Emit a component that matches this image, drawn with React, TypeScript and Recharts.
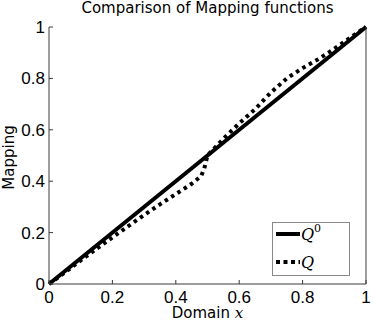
import React from 'react';
import { LineChart, Line, XAxis, YAxis } from 'recharts';

const xTicks = [0, 0.2, 0.4, 0.6, 0.8, 1];
const yTicks = [0, 0.2, 0.4, 0.6, 0.8, 1];
const tickLabels = ['0', '0.2', '0.4', '0.6', '0.8', '1'];

const q0X = [0, 1];
const q0Y = [0, 1];

const qX = [0, 0.05, 0.1, 0.15, 0.2, 0.25, 0.3, 0.35, 0.4, 0.45, 0.48, 0.49, 0.5, 0.55, 0.6, 0.65, 0.7, 0.75, 0.8, 0.85, 0.9, 0.95, 1];
const qY = [0, 0.045, 0.092, 0.137, 0.181, 0.225, 0.268, 0.31, 0.35, 0.39, 0.42, 0.45, 0.5, 0.565, 0.625, 0.68, 0.745, 0.8, 0.84, 0.875, 0.915, 0.958, 1];

const q0Data = q0X.map((x, i) => ({ x, y: q0Y[i] }));
const qData = qX.map((x, i) => ({ x, y: qY[i] }));

const fmt = (v: number) => {
  const i = xTicks.findIndex((t) => Math.abs(t - v) < 1e-9);
  return i >= 0 ? tickLabels[i] : String(v);
};

const AXIS = '#3a3a3a';
const TICKFAMILY = '"Liberation Sans", Arial, sans-serif';
const TICKFONT = { fontFamily: TICKFAMILY, fontSize: 17, fill: '#000' };
const LABELFONT = '"DejaVu Sans", sans-serif';

const XLabel = (props: any) => {
  const vb = props.viewBox || {};
  const cx = vb.x + vb.width / 2;
  return (
    <text x={cx} y={318} textAnchor="middle" fontFamily={LABELFONT} fontSize={15} fill="#000">
      Domain <tspan fontFamily='"DejaVu Serif", serif' fontStyle="italic">x</tspan>
    </text>
  );
};

const YLabel = (props: any) => {
  const vb = props.viewBox || {};
  const cy = vb.y + vb.height / 2;
  return (
    <text x={0} y={0} transform={`translate(14, ${cy + 2}) rotate(-90)`} textAnchor="middle" fontFamily={LABELFONT} fontSize={15} fill="#000">
      Mapping
    </text>
  );
};

export default function App() {
  return (
    <div style={{ position: 'absolute', left: 0, top: 0, width: 374, height: 320, background: '#fff' }}>
      <LineChart width={374} height={320} margin={{ top: 27, right: 0, bottom: 0, left: 0 }}>
        <XAxis
          xAxisId="b"
          dataKey="x"
          type="number"
          domain={[0, 1]}
          ticks={xTicks}
          tickFormatter={fmt}
          height={36}
          tickSize={-4}
          tickMargin={11}
          stroke={AXIS}
          tick={TICKFONT}
          fontSize={17}
          fontFamily={TICKFAMILY}
          interval={0}
          allowDuplicatedCategory={false}
          label={<XLabel />}
        />
        <XAxis
          xAxisId="t"
          orientation="top"
          dataKey="x"
          type="number"
          domain={[0, 1]}
          ticks={xTicks}
          tickFormatter={() => ''}
          height={0}
          tickSize={-4}
          stroke={AXIS}
          interval={0}
        />
        <YAxis
          yAxisId="l"
          dataKey="y"
          type="number"
          domain={[0, 1]}
          ticks={yTicks}
          tickFormatter={fmt}
          width={49}
          tickSize={-4}
          tickMargin={8}
          stroke={AXIS}
          tick={TICKFONT}
          fontSize={17}
          fontFamily={TICKFAMILY}
          interval={0}
          label={<YLabel />}
        />
        <YAxis
          yAxisId="r"
          orientation="right"
          dataKey="y"
          type="number"
          domain={[0, 1]}
          ticks={yTicks}
          tickFormatter={() => ''}
          width={8}
          tickSize={-4}
          stroke={AXIS}
          interval={0}
        />
        <Line
          xAxisId="b"
          yAxisId="l"
          data={q0Data}
          dataKey="y"
          type="linear"
          stroke="#000"
          strokeWidth={4}
          dot={false}
          isAnimationActive={false}
        />
        <Line
          xAxisId="b"
          yAxisId="l"
          data={qData}
          dataKey="y"
          type="linear"
          stroke="#000"
          strokeWidth={4}
          strokeDasharray="3.5 4"
          dot={false}
          isAnimationActive={false}
        />
      </LineChart>
      <svg width={374} height={20} style={{ position: 'absolute', left: 0, top: 0 }}>
        <text x={207.5} y={13} textAnchor="middle" fontFamily={LABELFONT} fontSize={15} fill="#000">
          Comparison of Mapping functions
        </text>
      </svg>
      <svg width={80} height={56} style={{ position: 'absolute', left: 272, top: 222 }}>
        <rect x={0.5} y={0.5} width={77} height={53} fill="#fff" stroke="#888" strokeWidth={1} />
        <line x1={4} y1={12} x2={28} y2={12} stroke="#000" strokeWidth={4} />
        <line x1={4} y1={40} x2={28} y2={40} stroke="#000" strokeWidth={4} strokeDasharray="4 3.5" />
        <text x={29} y={18} fontFamily='"DejaVu Serif", serif' fontStyle="italic" fontSize={16} fill="#000">
          Q
        </text>
        <text x={42} y={10} fontFamily='"DejaVu Serif", serif' fontSize={11} fill="#000">
          0
        </text>
        <text x={29} y={46} fontFamily='"DejaVu Serif", serif' fontStyle="italic" fontSize={16} fill="#000">
          Q
        </text>
      </svg>
    </div>
  );
}
